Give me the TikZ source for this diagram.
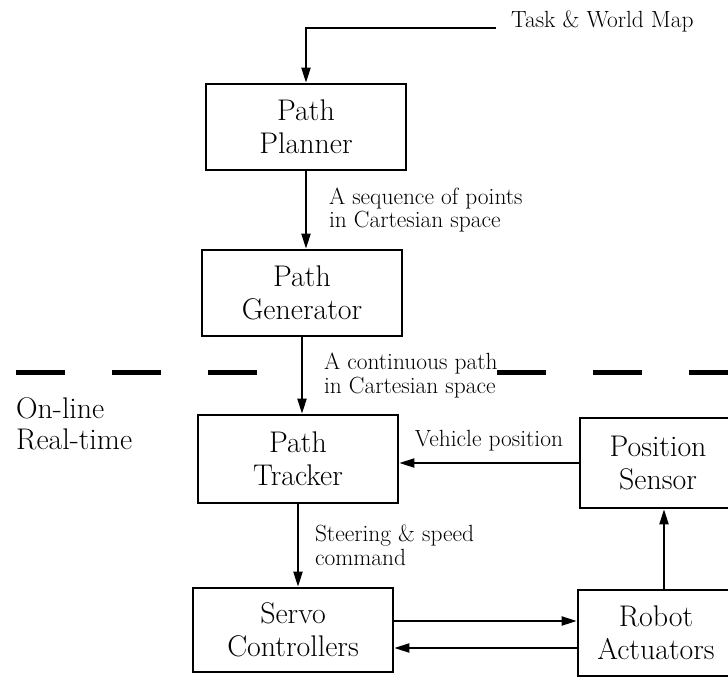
\documentclass[tikz,border=0pt]{standalone}
\usepackage{amssymb,amsmath}
\usetikzlibrary{arrows.meta}

\begin{document}
\begin{tikzpicture}[x=1bp, y=-1bp,
        block/.style={draw,line width=2.6bp,minimum width=200bp,minimum height=86bp,
            align=center,inner sep=0pt,font=\fontsize{30}{33}\selectfont},
        link/.style={line width=2bp,-{Triangle[length=15bp,width=9bp]}},
        note/.style={align=left,inner sep=0pt,font=\fontsize{23.5}{24}\selectfont}]

    \useasboundingbox (0,0) rectangle (728,677);

    \node[block] (planner) at (306,127) {Path\\Planner};
    \node[block] (generator) at (302,293) {Path\\Generator};
    \node[block,minimum height=88bp] (tracker) at (298,459) {Path\\Tracker};
    \node[block,minimum height=84bp] (servo) at (293,630) {Servo\\Controllers};
    \node[block,minimum width=156bp,minimum height=90bp] (sensor) at (658,463) {Position\\Sensor};
    \node[block,minimum width=156bp,minimum height=86bp] (robot) at (656,633) {Robot\\Actuators};

    \node[note,anchor=base west] (map) at (511,28) {Task \& World Map};
    \node[note,anchor=north west,font=\fontsize{30}{32}\selectfont] (mode) at (16,397) {On-line\\Real-time};

    \draw[line width=5bp,dash pattern=on 49bp off 47bp] (16,372) -- (258,372);
    \draw[line width=5bp,dash pattern=on 49bp off 47bp] (497,372) -- (728,372);

    \draw[link] ([xshift=-15bp]map.base west) -| (planner);
    \draw[link] (planner.south) -- node[note,right,xshift=22bp] {A sequence of points\\in Cartesian space} (planner.south |- generator.north);
    \draw[link] (generator.south) -- node[note,right,xshift=21bp] {A continuous path\\in Cartesian space} (generator.south |- tracker.north);
    \draw[link] (tracker.south) -- node[note,right,xshift=16bp] {Steering \& speed\\command} (tracker.south |- servo.north);
    \draw[link] (sensor.west) -- node[note,above=11bp] {Vehicle position} (sensor.west -| tracker.east);
    \draw[link] ([xshift=8bp]robot.north) -- ([xshift=8bp]robot.north |- sensor.south);
    \draw[link] ([yshift=9bp]servo.east) -- ([yshift=9bp]servo.east -| robot.west);
    \draw[link] ([yshift=-18bp]servo.east -| robot.west) -- ([yshift=-18bp]servo.east);
\end{tikzpicture}
\end{document}
